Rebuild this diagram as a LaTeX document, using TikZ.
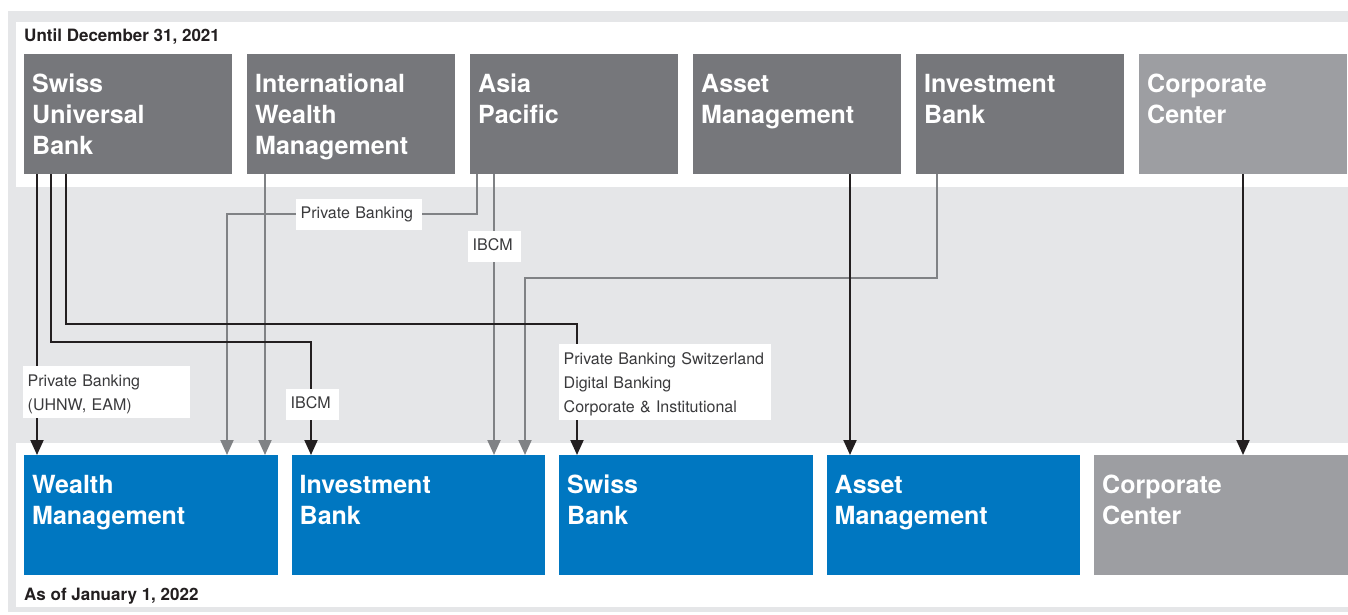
\documentclass[tikz,border=0pt]{standalone}
\usepackage{fontspec}
\setmainfont{TeX Gyre Heros}
\usepackage{xcolor}
\usetikzlibrary{arrows.meta, positioning}

\definecolor{panelgray}{HTML}{E5E6E8}
\definecolor{oldgray}{HTML}{76777B}
\definecolor{centergray}{HTML}{9D9EA2}
\definecolor{csblue}{HTML}{0077C1}
\definecolor{linegray}{HTML}{808285}
\definecolor{lineblack}{HTML}{231F20}
\definecolor{tagtext}{HTML}{3A3A3C}

\newcommand{\unitfont}{\fontsize{25}{31}\selectfont\bfseries}
\newcommand{\tagfont}{\fontsize{16}{24}\selectfont}
\newcommand{\datefont}{\fontsize{17}{20}\selectfont\bfseries}

\begin{document}
\begin{tikzpicture}[x=1pt, y=-1pt, >={Triangle[length=15pt, width=13pt]}]
        \tikzset{
            unit/.style={rectangle, anchor=north west, minimum width=208pt, minimum height=120pt, inner sep=0pt, outer sep=0pt},
            oldunit/.style={unit, fill=oldgray},
            oldcenter/.style={unit, fill=centergray},
            newunit/.style={unit, fill=csblue, minimum width=253.5pt},
            newcenter/.style={newunit, fill=centergray},
            unitname/.style={anchor=base west, xshift=8pt, yshift=-38pt, text width=195pt, align=left, inner sep=0pt, text=white, font=\unitfont},
            tag/.style={anchor=north west, fill=white, align=left, inner xsep=4.5pt, inner ysep=4pt, text height=16pt, text=tagtext, font=\tagfont},
            shorttag/.style={tag, inner ysep=7.5pt, text height=12pt, text depth=4pt},
            datetext/.style={anchor=base west, inner sep=0pt, text=lineblack, font=\datefont},
            blackflow/.style={->, line width=2pt, draw=lineblack},
            grayflow/.style={->, line width=2pt, draw=linegray}
        }

        % panels
        \useasboundingbox (0,0) rectangle (1348,614);
        \fill[panelgray] (8,11) rectangle (1348,612);
        \fill[white] (16,22) rectangle (1348,187);
        \fill[white] (16,443) rectangle (1348,607);

        % until 2021
        \node[datetext] (until) at (24,41) {Until December 31, 2021};
        \node[oldunit, label={[unitname]north west:Swiss\\Universal\\Bank}] (sub) at (24,54) {};
        \node[oldunit, right=15pt of sub, label={[unitname]north west:International\\Wealth\\Management}] (iwm) {};
        \node[oldunit, right=15pt of iwm, label={[unitname]north west:Asia\\Pacific}] (ap) {};
        \node[oldunit, right=15pt of ap, label={[unitname]north west:Asset\\Management}] (amold) {};
        \node[oldunit, right=15pt of amold, label={[unitname]north west:Investment\\Bank}] (ibold) {};
        \node[oldcenter, right=15pt of ibold, label={[unitname]north west:Corporate\\Center}] (ccold) {};

        % as of 2022
        \node[newunit, label={[unitname]north west:Wealth\\Management}] (wm) at (24,455) {};
        \node[newunit, right=14pt of wm, label={[unitname]north west:Investment\\Bank}] (ib) {};
        \node[newunit, right=14pt of ib, label={[unitname]north west:Swiss\\Bank}] (sb) {};
        \node[newunit, right=14pt of sb, label={[unitname]north west:Asset\\Management}] (am) {};
        \node[newcenter, right=14pt of am, label={[unitname]north west:Corporate\\Center}] (cc) {};
        \node[datetext] (asof) at (24,600) {As of January 1, 2022};

        % flows
        \draw[grayflow] ([xshift=18pt]iwm.south west) -- ([xshift=241pt]wm.north west);
        \draw[grayflow] ([xshift=7pt]ap.south west) -- ++(0,40) -| ([xshift=203pt]wm.north west);
        \draw[grayflow] ([xshift=24pt]ap.south west) -- ([xshift=202.5pt]ib.north west);
        \draw[grayflow] ([xshift=21pt]ibold.south west) -- ++(0,104) -| ([xshift=233.5pt]ib.north west);

        \draw[blackflow] ([xshift=13pt]sub.south west) -- ([xshift=13pt]wm.north west);
        \draw[blackflow] ([xshift=27pt]sub.south west) -- ++(0,168) -| ([xshift=19.5pt]ib.north west);
        \draw[blackflow] ([xshift=42pt]sub.south west) -- ++(0,150) -| ([xshift=18pt]sb.north west);
        \draw[blackflow] ([xshift=157pt]amold.south west) -- ([xshift=23.5pt]am.north west);
        \draw[blackflow] ([xshift=104pt]ccold.south west) -- ([xshift=149pt]cc.north west);

        % what moved
        \node[shorttag, text width=117pt] (pbap) at (296,199) {Private Banking};
        \node[shorttag, text width=44pt] (ibcmap) at (468,231) {IBCM};
        \node[tag, text width=158pt] (pbuhnw) at (23,366) {Private Banking\\(UHNW, EAM)};
        \node[shorttag, text width=44pt] (ibcmsub) at (286,389) {IBCM};
        \node[tag, text width=203pt] (pbsw) at (559,344) {Private Banking Switzerland\\Digital Banking\\Corporate \& Institutional};

\end{tikzpicture}
\end{document}
